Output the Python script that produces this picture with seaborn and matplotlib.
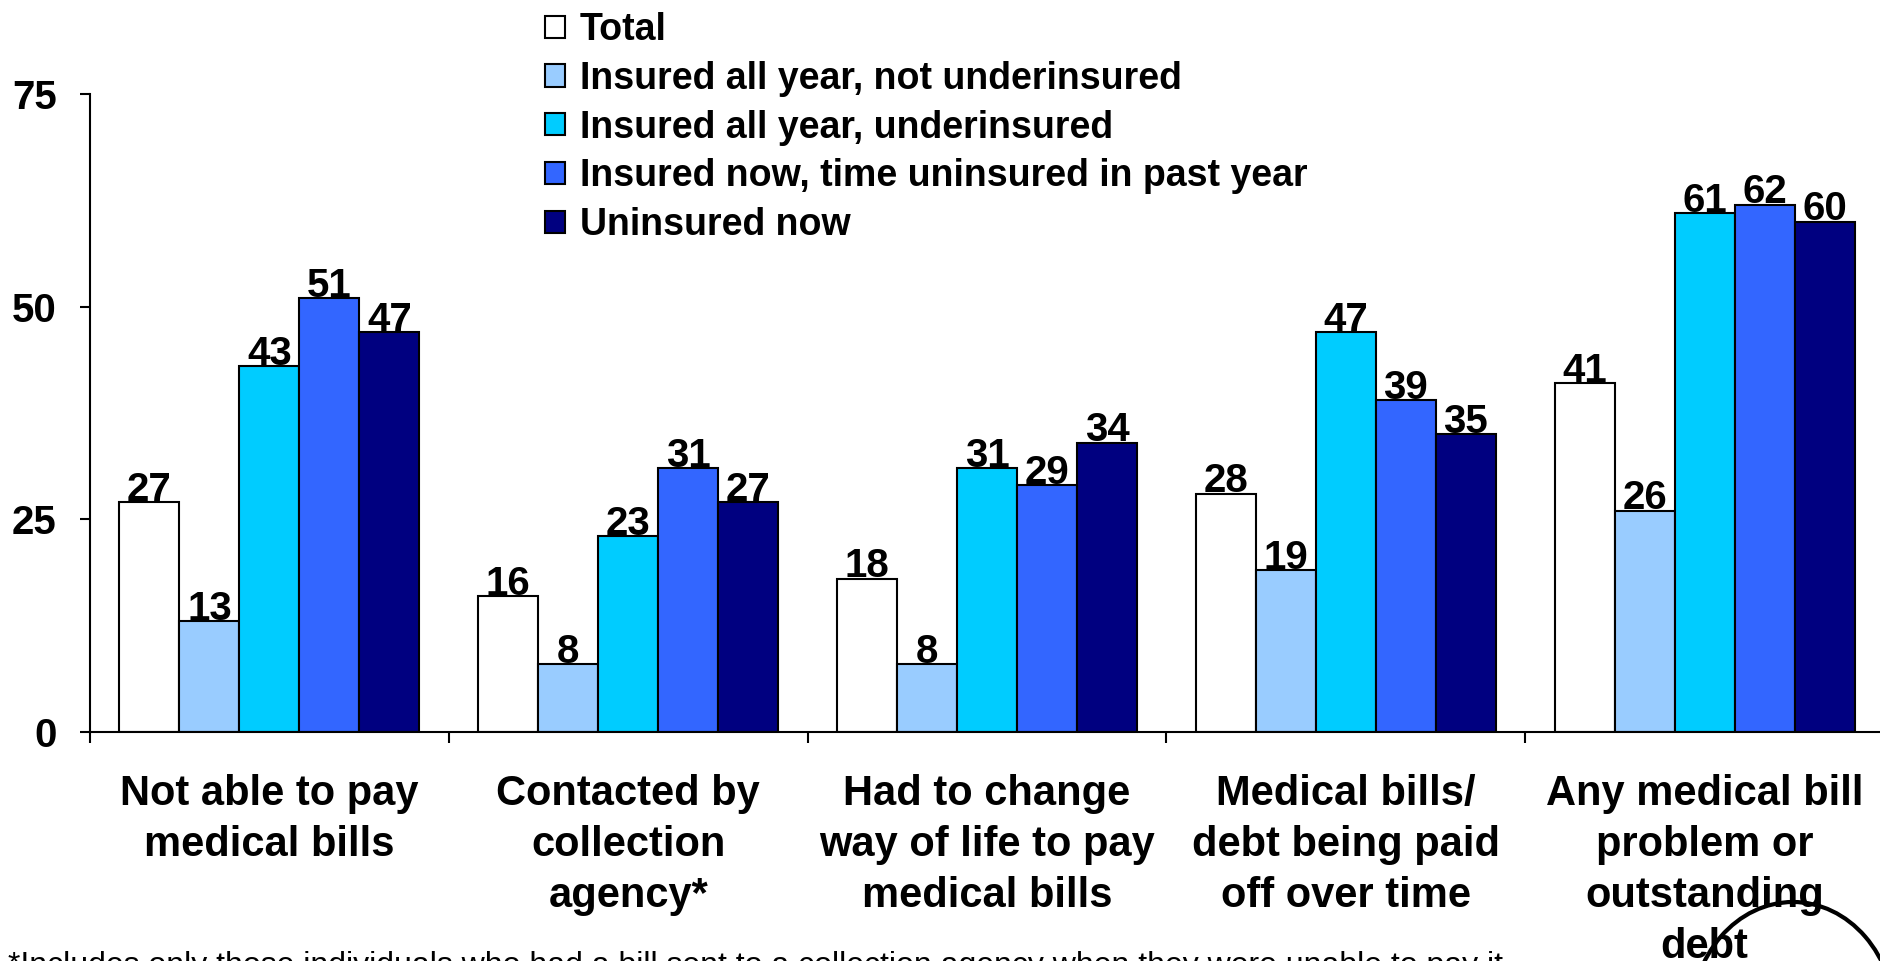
import matplotlib
matplotlib.use("Agg")
import matplotlib.pyplot as plt
from matplotlib.patches import Ellipse
import pandas as pd
import seaborn as sns

# ---- data -------------------------------------------------------------
categories = [
    "Not able to pay\nmedical bills",
    "Contacted by\ncollection\nagency*",
    "Had to change\nway of life to pay\nmedical bills",
    "Medical bills/\ndebt being paid\noff over time",
    "Any medical bill\nproblem or\noutstanding\ndebt",
]
groups = [
    "Total",
    "Insured all year, not underinsured",
    "Insured all year, underinsured",
    "Insured now, time uninsured in past year",
    "Uninsured now",
]
total = [27, 16, 18, 28, 41]
insured_not_under = [13, 8, 8, 19, 26]
insured_under = [43, 23, 31, 47, 61]
gap_in_coverage = [51, 31, 29, 39, 62]
uninsured_now = [47, 27, 34, 35, 60]
y_ticks = [0, 25, 50, 75]
footnote = ("*Includes only those individuals who had a bill sent to a collection "
            "agency when they were unable to pay it")

colors = ["#FFFFFF", "#99CCFF", "#00CCFF", "#3366FF", "#000080"]

series = [total, insured_not_under, insured_under, gap_in_coverage, uninsured_now]
rows = []
for g, vals in zip(groups, series):
    for c, v in zip(categories, vals):
        rows.append({"category": c, "group": g, "value": v})
df = pd.DataFrame(rows)

# ---- figure -----------------------------------------------------------
sns.set_theme(style="white")
plt.rcParams["font.family"] = ["Liberation Sans", "DejaVu Sans"]
plt.rcParams["font.weight"] = "bold"
plt.rcParams["text.color"] = "black"
plt.rcParams["axes.labelcolor"] = "black"
plt.rcParams["xtick.color"] = "black"
plt.rcParams["ytick.color"] = "black"

fig = plt.figure(figsize=(18.81, 9.61), dpi=100)
ax = fig.add_axes([90 / 1881, 229 / 961, 1794 / 1881, 638 / 961])

sns.barplot(
    data=df, x="category", y="value", hue="group",
    order=categories, hue_order=groups, palette=colors,
    width=0.836, gap=0, edgecolor="black", linewidth=1.5,
    saturation=1, ax=ax,
)

handles, labels = ax.get_legend_handles_labels()
ax.get_legend().remove()

# value labels above each bar
for container in ax.containers:
    for bar in container:
        h = bar.get_height()
        ax.annotate(
            f"{h:.0f}", (bar.get_x() + bar.get_width() / 2, h),
            xytext=(0, 1), textcoords="offset points",
            ha="center", va="baseline", fontsize=29, fontweight="bold",
            color="black",
        )

ax.set_xlim(-0.5, 4.5)
ax.set_ylim(0, 75)
ax.set_xlabel("")
ax.set_ylabel("")

for side in ("top", "right"):
    ax.spines[side].set_visible(False)
for side in ("left", "bottom"):
    ax.spines[side].set_color("black")
    ax.spines[side].set_linewidth(1.5)

ax.set_yticks(y_ticks)
ax.set_yticklabels([str(t) for t in y_ticks], fontsize=29, fontweight="bold")
ax.tick_params(axis="y", left=True, direction="out", length=7, width=1.5,
               pad=17, colors="black")

ax.set_xticks(range(len(categories)))
ax.set_xticklabels(categories, fontsize=30, fontweight="bold", linespacing=1.35)
ax.tick_params(axis="x", which="major", bottom=False, length=0, pad=30.5,
               colors="black")
ax.set_xticks([i - 0.5 for i in range(len(categories) + 1)], minor=True)
ax.tick_params(axis="x", which="minor", bottom=True, direction="out",
               length=8, width=1.5, color="black")

# legend in the upper middle
for hnd in handles:
    hnd.set_edgecolor("black")
    hnd.set_linewidth(1.5)
fig.legend(
    handles, labels, loc="upper left",
    bbox_to_anchor=(545 / 1881, 1 - 12 / 961),
    frameon=False,
    prop={"weight": "bold", "size": 27},
    handlelength=0.54, handleheight=0.54, handletextpad=0.38,
    labelspacing=0.34, borderaxespad=0, borderpad=0,
)

# footnote, partially below the lower edge
fig.text(8 / 1881, 1 - 951 / 961, footnote, ha="left", va="top",
         fontsize=23, fontweight="normal", color="black")

# hand-drawn ring in the lower right corner
ring = Ellipse((1793 / 1881, (961 - 1020) / 961), 204 / 1881, 236 / 961,
               transform=fig.transFigure, fill=False, edgecolor="black",
               linewidth=3, clip_on=False)
fig.patches.append(ring)

fig.savefig("out.png", dpi=100)
